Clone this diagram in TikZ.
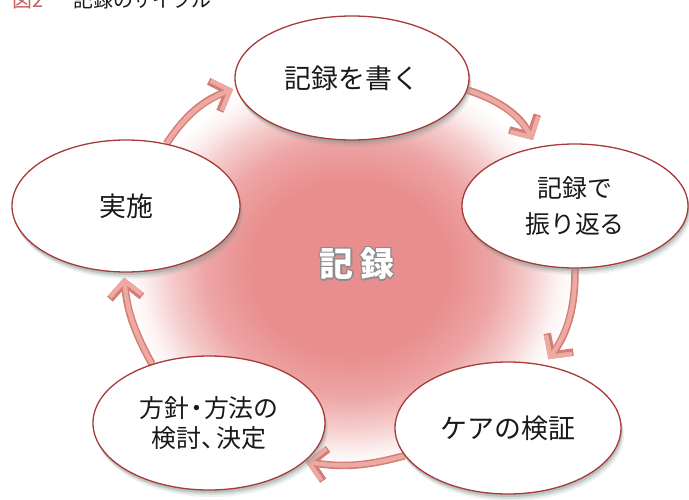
\documentclass[tikz,border=0pt]{standalone}
\usepackage{fontspec}
\setmainfont{Noto Sans CJK JP}
\usetikzlibrary{shapes.geometric,arrows.meta,shadows}
\definecolor{glowc}{RGB}{233,142,142}
\definecolor{edgec}{RGB}{168,58,58}
\definecolor{shc}{RGB}{130,152,142}
\definecolor{arrdark}{RGB}{210,125,117}
\definecolor{arrlight}{RGB}{238,170,162}
\definecolor{figred}{RGB}{196,96,96}
\definecolor{txt}{RGB}{25,25,25}
\pgfdeclareradialshading{glowshade}{\pgfpoint{0bp}{0bp}}{color(0bp)=(glowc); color(11bp)=(glowc); color(16bp)=(glowc!80!white); color(20bp)=(glowc!45!white); color(23bp)=(glowc!12!white); color(25bp)=(white); color(50bp)=(white)}
\pgfdeclarelayer{bg}
\pgfsetlayers{bg,main}
\tikzset{
  bub/.style={ellipse, draw=edgec, line width=1.3bp, fill=white, inner sep=0pt, text=txt,
    drop shadow={shadow xshift=1bp, shadow yshift=-3bp, fill=shc, opacity=.35},
    drop shadow={shadow xshift=2bp, shadow yshift=-5bp, fill=shc, opacity=.22},
    drop shadow={shadow xshift=3bp, shadow yshift=-7bp, fill=shc, opacity=.12}},
  big/.style={font=\fontsize{27}{30}\selectfont},
  arr/.style={line width=7.5bp, draw=arrdark, -{Straight Barb[length=15bp,width=32bp]}},
  arrin/.style={line width=4.5bp, draw=arrlight, -{Straight Barb[length=15bp,width=32bp]}},
  ttl/.style={anchor=base west, inner sep=0pt, font=\fontsize{20}{20}\selectfont},
  core/.style={font=\fontsize{34}{34}\selectfont\bfseries, inner sep=0pt}
}
\newcommand\cyc[2][]{\draw[arr,#1] #2; \draw[arrin,#1] #2;}
\newcommand\outl[1]{\leavevmode\rlap{\color{black!45}%
  \foreach \dx/\dy in {1.4/0,1/1,0/1.4,-1/1,-1.4/0,-1/-1,0/-1.4,1/-1}{\rlap{\kern\dx bp\raisebox{\dy bp}{#1}}}}#1}
\begin{document}
\begin{tikzpicture}[x=1bp,y=-1bp]
\clip (0,0) rectangle (689,500);
\useasboundingbox (0,0) rectangle (689,500);

% title
\node[ttl, text=figred] (fig) at (12,8) {図2};
\node[ttl, text=txt] (title) at (73,8) {記録のサイクル};

% cycle ellipses
\node[bub, big, minimum width=234bp, minimum height=124bp] (wr) at (352,78) {記録を書く};
\node[bub, minimum width=226bp, minimum height=124bp, align=center, font=\fontsize{25}{36}\selectfont] (fk) at (575,206) {記録で\\振り返る};
\node[bub, big, minimum width=226bp, minimum height=132bp] (kv) at (508,428) {ケアの検証};
\node[bub, minimum width=232bp, minimum height=134bp, align=center, font=\fontsize{25}{31}\selectfont] (hs) at (209,423) {方針\kern-5bp・\kern-5bp方法の\\検討、\kern-9bp決定};
\node[bub, big, minimum width=228bp, minimum height=132bp] (js) at (126,206) {実施};

% central label
\node[core, text=white] (kiroku) at (357,264) {\outl{記\hspace{7bp}録}};

\begin{pgfonlayer}{bg}
\fill[white] (0,0) rectangle (689,500);
\shade[shading=glowshade] (350,268) ellipse [x radius=225, y radius=200];
\cyc[shorten >=8bp]{(wr.-6) to[bend left=22] (fk.123)}
\cyc[shorten >=7bp]{(fk.-90) to[bend left=18] (kv.60)}
\cyc[shorten >=1bp]{(kv.195) to[bend left=12] (hs.-22)}
\cyc[shorten >=5bp]{(hs.134) to[bend left=12] (js.-92)}
\cyc[shorten >=3bp]{(js.57) to[bend left=18] (wr.185)}
\end{pgfonlayer}
\end{tikzpicture}
\end{document}
